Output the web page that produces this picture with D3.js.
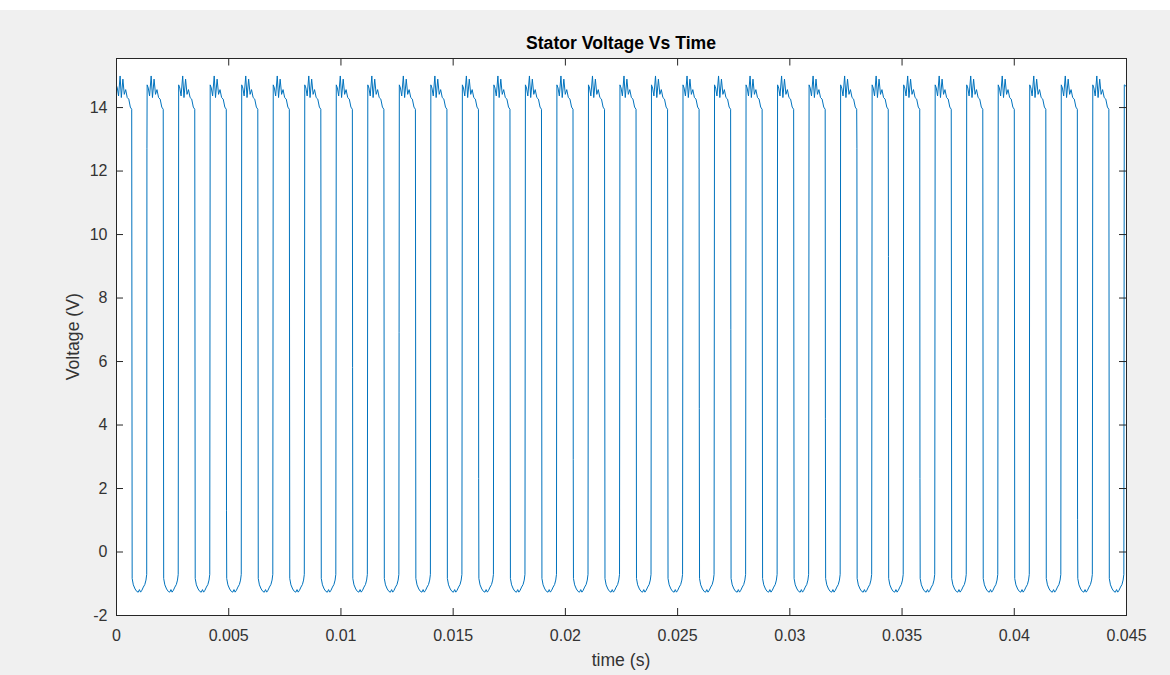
<!DOCTYPE html>
<html>
<head>
<meta charset="utf-8">
<script src="https://cdn.jsdelivr.net/npm/d3@7"></script>
<style>
  html, body { margin: 0; padding: 0; background: #f0f0f0; }
  svg { display: block; }
</style>
</head>
<body>
<svg id="chart" width="1170" height="675"></svg>
<script>
// ---- data ----
const xTicks = [0, 0.005, 0.01, 0.015, 0.02, 0.025, 0.03, 0.035, 0.04, 0.045];
const xTickLabels = ["0", "0.005", "0.01", "0.015", "0.02", "0.025", "0.03", "0.035", "0.04", "0.045"];
const yTicks = [-2, 0, 2, 4, 6, 8, 10, 12, 14];
const yTickLabels = ["-2", "0", "2", "4", "6", "8", "10", "12", "14"];
const xLimits = [0, 0.045];
const yLimits = [-2, 15.53];

// switching instants (s): start of each high and low interval
const riseTimes = [0.001368, 0.002772, 0.004177, 0.005581, 0.006986, 0.008390, 0.009794, 0.011199,
  0.012603, 0.014008, 0.015412, 0.016816, 0.018221, 0.019625, 0.021030, 0.022434,
  0.023838, 0.025243, 0.026647, 0.028052, 0.029456, 0.030860, 0.032265, 0.033669,
  0.035074, 0.036478, 0.037882, 0.039287, 0.040691, 0.042096, 0.043500, 0.044904];
const fallTimes = [0.000700, 0.002104, 0.003509, 0.004913, 0.006318, 0.007722, 0.009126, 0.010531,
  0.011935, 0.013340, 0.014744, 0.016148, 0.017553, 0.018957, 0.020362, 0.021766,
  0.023170, 0.024575, 0.025979, 0.027384, 0.028788, 0.030192, 0.031597, 0.033001,
  0.034406, 0.035810, 0.037214, 0.038619, 0.040023, 0.041428, 0.042832, 0.044236];

// ripple on the high level (position within the interval, volts)
const highShapeFrac  = [0, 0.07, 0.15, 0.25, 0.33, 0.43, 0.52, 0.61, 0.71, 0.81, 0.91, 1.0];
const highShapeVolts = [14.70, 14.60, 14.35, 14.98, 14.30, 14.88, 14.40, 14.55, 14.30, 14.25, 14.00, 13.93];
// ripple on the low level
const lowShapeFrac  = [0, 0.08, 0.20, 0.32, 0.42, 0.50, 0.58, 0.67, 0.77, 0.87, 0.95, 1.0];
const lowShapeVolts = [-0.85, -1.05, -1.18, -1.26, -1.28, -1.20, -1.28, -1.22, -1.12, -1.04, -0.90, -0.72];

// samples caught part-way through a transition
const edgeMidTimes  = [0.001378, 0.004923, 0.010541, 0.012613, 0.016158, 0.020372, 0.025989,
  0.027394, 0.031607, 0.033011, 0.034416, 0.035820, 0.042842];
const edgeMidVolts  = [12.7, 1.3, 5.8, 6.9, 2.3, 2.9, 4.5, 7.0, 4.2, 12.7, 9.3, 2.3, 1.0];

const startVolts = 5.2;
const edgeStep = 0.00002;

// ---- layout ----
const plot = { left: 116, right: 1126, top: 58.5, bottom: 615 };
const fontFamily = "'Liberation Sans', Arial, Helvetica, sans-serif";
const axisColor = "#262626";
const lineColor = "#0072BD";

const svg = d3.select("#chart");

svg.append("rect").attr("x", 0).attr("y", 0).attr("width", 1170).attr("height", 675).attr("fill", "#f0f0f0");
svg.append("rect").attr("x", 0).attr("y", 0).attr("width", 1170).attr("height", 10).attr("fill", "#ffffff");
svg.append("rect")
  .attr("x", plot.left).attr("y", plot.top)
  .attr("width", plot.right - plot.left).attr("height", plot.bottom - plot.top)
  .attr("fill", "#ffffff");

const x = d3.scaleLinear().domain(xLimits).range([plot.left, plot.right]);
const y = d3.scaleLinear().domain(yLimits).range([plot.bottom, plot.top]);

// ---- build the trace ----
const pts = [];
pts.push([0, startVolts]);
function plateau(a, b, fr, vs) {
  for (let i = 0; i < fr.length; i++) pts.push([a + fr[i] * (b - a), vs[i]]);
}
// first high interval starts right at t = 0
plateau(edgeStep * 0.5, fallTimes[0], highShapeFrac, highShapeVolts);
for (let k = 0; k < fallTimes.length; k++) {
  const lowStart = fallTimes[k] + edgeStep;
  const lowEnd = riseTimes[k];
  plateau(lowStart, lowEnd, lowShapeFrac, lowShapeVolts);
  const hiStart = riseTimes[k] + edgeStep;
  if (k + 1 < fallTimes.length) {
    plateau(hiStart, fallTimes[k + 1], highShapeFrac, highShapeVolts);
  } else {
    pts.push([hiStart, highShapeVolts[0]]);
    pts.push([xLimits[1] + 0.0001, highShapeVolts[1]]);
  }
}
edgeMidTimes.forEach((t, i) => pts.push([t, edgeMidVolts[i]]));
pts.sort((a, b) => a[0] - b[0]);

svg.append("clipPath").attr("id", "plotClip")
  .append("rect")
  .attr("x", plot.left).attr("y", plot.top)
  .attr("width", plot.right - plot.left).attr("height", plot.bottom - plot.top);

const line = d3.line().x(d => x(d[0])).y(d => y(d[1]));
svg.append("path")
  .datum(pts)
  .attr("clip-path", "url(#plotClip)")
  .attr("fill", "none")
  .attr("stroke", lineColor)
  .attr("stroke-width", 1)
  .attr("stroke-linejoin", "round")
  .attr("d", line);

// ---- axes ----
function styleAxis(g) {
  g.select(".domain").remove();
  g.selectAll(".tick line").attr("stroke", axisColor).attr("stroke-width", 1);
  g.selectAll(".tick text")
    .attr("fill", "#333333")
    .style("font-family", fontFamily)
    .style("font-size", "16px");
}

svg.append("g")
  .attr("transform", `translate(0,${plot.bottom})`)
  .call(d3.axisBottom(x).tickValues(xTicks).tickFormat((d, i) => xTickLabels[i])
    .tickSizeInner(-7).tickSizeOuter(0).tickPadding(14.5))
  .call(styleAxis);

svg.append("g")
  .attr("transform", `translate(0,${plot.top})`)
  .call(d3.axisTop(x).tickValues(xTicks).tickFormat(() => "")
    .tickSizeInner(-7).tickSizeOuter(0))
  .call(styleAxis);

svg.append("g")
  .attr("transform", `translate(${plot.left},0)`)
  .call(d3.axisLeft(y).tickValues(yTicks).tickFormat((d, i) => yTickLabels[i])
    .tickSizeInner(-7).tickSizeOuter(0).tickPadding(8.5))
  .call(styleAxis);

svg.append("g")
  .attr("transform", `translate(${plot.right},0)`)
  .call(d3.axisRight(y).tickValues(yTicks).tickFormat(() => "")
    .tickSizeInner(-7).tickSizeOuter(0))
  .call(styleAxis);

// box around the plot area
svg.append("rect")
  .attr("x", plot.left).attr("y", plot.top)
  .attr("width", plot.right - plot.left).attr("height", plot.bottom - plot.top)
  .attr("fill", "none")
  .attr("stroke", axisColor)
  .attr("stroke-width", 1)
  .attr("shape-rendering", "crispEdges");

// ---- labels ----
svg.append("text")
  .attr("x", (plot.left + plot.right) / 2).attr("y", 49)
  .attr("text-anchor", "middle")
  .attr("fill", "#000000")
  .style("font-family", fontFamily)
  .style("font-size", "17.6px")
  .style("font-weight", "bold")
  .text("Stator Voltage Vs Time");

svg.append("text")
  .attr("x", (plot.left + plot.right) / 2).attr("y", 666)
  .attr("text-anchor", "middle")
  .attr("fill", "#333333")
  .style("font-family", fontFamily)
  .style("font-size", "17.6px")
  .text("time (s)");

svg.append("text")
  .attr("transform", `translate(79,${(plot.top + plot.bottom) / 2}) rotate(-90)`)
  .attr("text-anchor", "middle")
  .attr("fill", "#333333")
  .style("font-family", fontFamily)
  .style("font-size", "17.6px")
  .text("Voltage (V)");
</script>
</body>
</html>
